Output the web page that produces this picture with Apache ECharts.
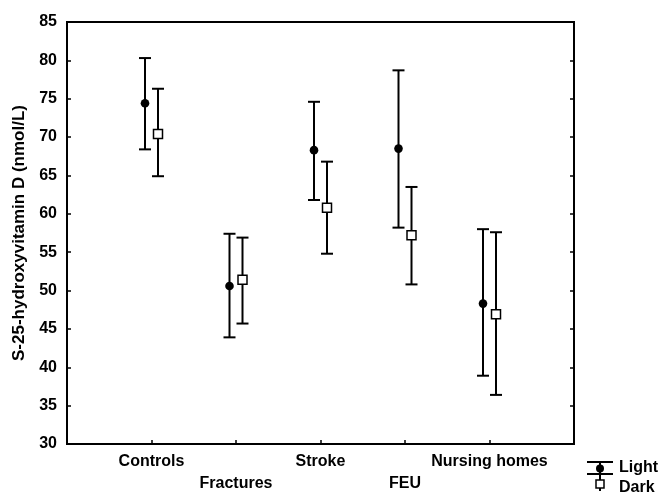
<!DOCTYPE html>
<html>
<head>
<meta charset="utf-8">
<script src="https://cdn.jsdelivr.net/npm/echarts@6/dist/echarts.min.js"></script>
<style>
html,body{margin:0;padding:0;background:#fff;}
#c{width:663px;height:499px;}
</style>
</head>
<body>
<div id="c"></div>
<script>
const categories = ['Controls', 'Fractures', 'Stroke', 'FEU', 'Nursing homes'];
const lightMean = [74.4, 50.6, 68.3, 68.5, 48.3];
const lightLow  = [68.4, 43.9, 61.8, 58.2, 38.9];
const lightHigh = [80.3, 57.4, 74.6, 78.7, 58.0];
const darkMean  = [70.4, 51.4, 60.8, 57.2, 46.9];
const darkLow   = [64.9, 45.7, 54.8, 50.8, 36.4];
const darkHigh  = [76.3, 56.9, 66.8, 63.5, 57.6];
const yTicks = [30, 35, 40, 45, 50, 55, 60, 65, 70, 75, 80, 85];

const FONT = '"Liberation Sans", Arial, sans-serif';

function makeData(mean, low, high) {
  return categories.map((c, i) => [i + 1, low[i], high[i], mean[i]]);
}

function makeRender(offset, kind) {
  return function (params, api) {
    const x = api.value(0);
    const lo = api.coord([x, api.value(1)]);
    const hi = api.coord([x, api.value(2)]);
    const m = api.coord([x, api.value(3)]);
    const px = m[0] + offset;
    const ls = { stroke: '#000', lineWidth: 2 };
    const children = [
      { type: 'line', shape: { x1: px, y1: hi[1], x2: px, y2: lo[1] }, style: ls },
      { type: 'line', shape: { x1: px - 6, y1: hi[1], x2: px + 6, y2: hi[1] }, style: ls },
      { type: 'line', shape: { x1: px - 6, y1: lo[1], x2: px + 6, y2: lo[1] }, style: ls }
    ];
    if (kind === 'circle') {
      children.push({ type: 'circle', shape: { cx: px, cy: m[1], r: 4.3 }, style: { fill: '#000' } });
    } else {
      children.push({ type: 'rect', shape: { x: px - 4.5, y: m[1] - 4.5, width: 9, height: 9 }, style: { fill: '#fff', stroke: '#000', lineWidth: 1.5 } });
    }
    return { type: 'group', children: children };
  };
}

const chart = echarts.init(document.getElementById('c'));
chart.setOption({
  animation: false,
  backgroundColor: '#fff',
  grid: { left: 67, top: 22, right: 89, bottom: 55, outerBoundsMode: 'none', containLabel: false, show: true, borderColor: '#000', borderWidth: 2, backgroundColor: 'transparent' },
  xAxis: {
    type: 'value', min: 0, max: 6, interval: 1,
    splitLine: { show: false },
    axisLine: { lineStyle: { color: '#000', width: 2 } },
    axisTick: { inside: true, length: 4, lineStyle: { color: '#000', width: 1.5 } },
    axisLabel: {
      fontFamily: FONT, fontWeight: 'bold', fontSize: 16, color: '#000', margin: 7, lineHeight: 22,
      showMinLabel: true, showMaxLabel: true,
      formatter: function (v) {
        const i = Math.round(v) - 1;
        if (i < 0 || i >= categories.length) return '';
        return (i % 2 === 1 ? ' \n' : '') + categories[i];
      }
    }
  },
  yAxis: [{
    type: 'value', min: 30, max: 85, interval: 5,
    name: 'S-25-hydroxyvitamin D (nmol/L)', nameLocation: 'middle', nameGap: 38,
    nameTextStyle: { fontFamily: FONT, fontWeight: 'bold', fontSize: 17, color: '#000' },
    splitLine: { show: false },
    axisLine: { show: true, lineStyle: { color: '#000', width: 2 } },
    axisTick: { show: true, inside: true, length: 4, lineStyle: { color: '#000', width: 1.5 } },
    axisLabel: { fontFamily: FONT, fontWeight: 'bold', fontSize: 16, color: '#000', margin: 10, formatter: v => yTicks.includes(v) ? String(v) : '' }
  }, {
    type: 'value', min: 30, max: 85, interval: 5, position: 'right',
    splitLine: { show: false },
    axisLine: { show: true, lineStyle: { color: '#000', width: 2 } },
    axisTick: { show: true, inside: true, length: 4, lineStyle: { color: '#000', width: 1.5 } },
    axisLabel: { show: false }
  }],
  series: [
    { name: 'Light', type: 'custom', renderItem: makeRender(-6.5, 'circle'), data: makeData(lightMean, lightLow, lightHigh), encode: { x: 0, y: [1, 2, 3] }, z: 3 },
    { name: 'Dark', type: 'custom', renderItem: makeRender(6.5, 'square'), data: makeData(darkMean, darkLow, darkHigh), encode: { x: 0, y: [1, 2, 3] }, z: 3 }
  ],
  graphic: [
    { type: 'line', shape: { x1: 587, y1: 462, x2: 613, y2: 462 }, style: { stroke: '#000', lineWidth: 2 } },
    { type: 'line', shape: { x1: 600, y1: 462, x2: 600, y2: 474 }, style: { stroke: '#000', lineWidth: 2 } },
    { type: 'circle', shape: { cx: 600, cy: 468.5, r: 4 }, style: { fill: '#000' } },
    { type: 'line', shape: { x1: 587, y1: 474, x2: 613, y2: 474 }, style: { stroke: '#000', lineWidth: 2 } },
    { type: 'line', shape: { x1: 600, y1: 474, x2: 600, y2: 491 }, style: { stroke: '#000', lineWidth: 2 } },
    { type: 'rect', shape: { x: 596, y: 480, width: 8, height: 8 }, style: { fill: '#fff', stroke: '#000', lineWidth: 1.5 } },
    { type: 'text', left: 619, top: 460, style: { text: 'Light', fill: '#000', font: 'bold 16px "Liberation Sans", Arial, sans-serif' } },
    { type: 'text', left: 619, top: 480, style: { text: 'Dark', fill: '#000', font: 'bold 16px "Liberation Sans", Arial, sans-serif' } }
  ]
});
</script>
</body>
</html>
